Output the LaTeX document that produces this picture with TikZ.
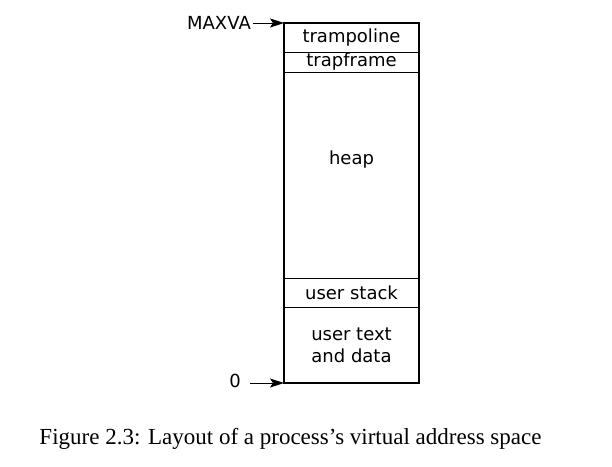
\documentclass[tikz,border=0pt]{standalone}
\usepackage{fontspec}
\setmainfont{Liberation Serif}
\newfontfamily\labelfont{DejaVu Sans}
\usetikzlibrary{positioning,arrows.meta}
\tikzset{
    region/.style={draw, line width=0.6pt, minimum width=135pt, inner sep=0pt, outer sep=0pt, font=\labelfont\fontsize{18}{22}\selectfont, align=center},
    addr/.style={font=\labelfont\fontsize{18}{22}\selectfont, inner sep=0pt},
    pointer/.style={-{Stealth[length=14pt,width=9pt,inset=3pt]}, line width=0.9pt}
}
\begin{document}
\begin{tikzpicture}[x=1pt,y=-1pt]
        \useasboundingbox (0,0) rectangle (612,466);
        \node[region, minimum height=29pt, anchor=north west] (tramp) at (284,23) {\raisebox{-1.5pt}{trampoline}};
        \node[region, minimum height=20pt, below=0pt of tramp] (trapf) {trapframe};
        \node[region, minimum height=206pt, below=0pt of trapf] (heap) {};
        \node[addr] (heaplbl) at ([yshift=-88pt]heap.north) {heap};
        \node[region, minimum height=29pt, below=0pt of heap] (stack) {user stack};
        \node[region, minimum height=76pt, below=0pt of stack] (text) {user text\\and data};
        \draw[line width=1.2pt] (tramp.north west) rectangle (text.south east);
        \node[addr, anchor=east] (maxva) at (251,23) {MAXVA};
        \node[addr, anchor=east] (zero) at (241,381) {0};
        \draw[pointer] ([xshift=2pt]maxva.east) -- (tramp.north west);
        \draw[pointer] ([xshift=9pt]zero.east |- text.south west) -- (text.south west);
        \node[font=\fontsize{23}{27}\selectfont, anchor=base] (caption) at (290.5,444) {Figure 2.3: Layout of a process’s virtual address space};
    \end{tikzpicture}
\end{document}
